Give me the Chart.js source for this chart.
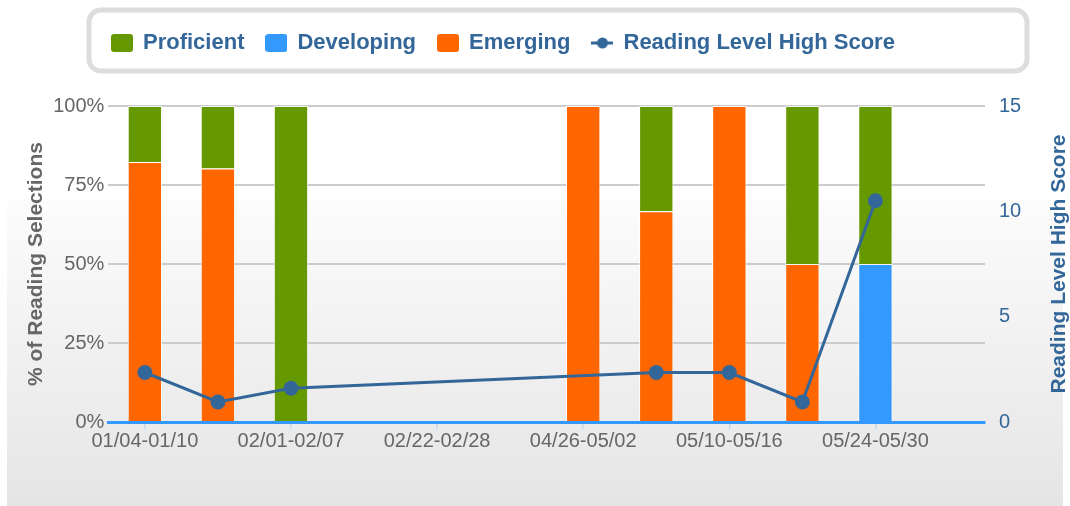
<!DOCTYPE html>
<html>
<head>
<meta charset="utf-8">
<script src="https://cdn.jsdelivr.net/npm/chart.js@4/dist/chart.umd.min.js"></script>
<style>
  html, body { margin: 0; padding: 0; background: #fff; }
  #wrap { width: 1070px; height: 506px; }
</style>
</head>
<body>
<div id="wrap"><canvas id="chart"></canvas></div>
<script>
const weeks = ['01/04-01/10', '01/18-01/24', '02/01-02/07', '02/08-02/14', '02/22-02/28', '03/01-03/07',
  '04/26-05/02', '05/03-05/09', '05/10-05/16', '05/17-05/23', '05/24-05/30', '05/31-06/06'];
const emerging = [82.3, 80.2, null, null, null, null, 100, 66.7, 100, 50, null, null];
const developing = [null, null, null, null, null, null, null, null, null, null, 50, null];
const proficient = [17.7, 19.8, 100, null, null, null, null, 33.3, null, 50, 50, null];
const highScore = [2.35, 0.95, 1.6, null, null, null, null, 2.35, 2.35, 0.95, 10.5, null];
const legendOrder = ['Proficient', 'Developing', 'Emerging', 'Reading Level High Score'];

const GREEN = '#669900', BLUE = '#3399ff', ORANGE = '#ff6600', NAVY = '#336699';
const FONT = '"Liberation Sans", Arial, sans-serif';

function boxIcon(color) {
  const c = document.createElement('canvas');
  c.width = 22; c.height = 18;
  const g = c.getContext('2d');
  g.fillStyle = color;
  g.beginPath();
  g.roundRect(0, 0, 22, 18, 3);
  g.fill();
  return c;
}
function lineIcon(color) {
  const c = document.createElement('canvas');
  c.width = 22; c.height = 14;
  const g = c.getContext('2d');
  g.strokeStyle = color;
  g.lineWidth = 3;
  g.beginPath();
  g.moveTo(0, 7); g.lineTo(22, 7);
  g.stroke();
  g.fillStyle = color;
  g.beginPath();
  g.arc(11, 7, 5.5, 0, Math.PI * 2);
  g.fill();
  return c;
}
const icons = {
  'Proficient': boxIcon(GREEN),
  'Developing': boxIcon(BLUE),
  'Emerging': boxIcon(ORANGE),
  'Reading Level High Score': lineIcon(NAVY)
};

// panel gradient + legend frame + right axis title
const backdrop = {
  id: 'backdrop',
  beforeInit(chart) {
    const fit = chart.legend.fit;
    chart.legend.fit = function () {
      fit.call(this);
      this.height += 42;
    };
  },
  afterLayout(chart) {
    chart.legend.left = 90;
  },
  beforeDraw(chart) {
    const ctx = chart.ctx;
    ctx.save();
    const grad = ctx.createLinearGradient(0, 200, 0, 506);
    grad.addColorStop(0, '#fcfcfc');
    grad.addColorStop(1, '#e5e5e5');
    ctx.fillStyle = grad;
    ctx.beginPath();
    ctx.roundRect(7, 200, 1056, 320, 8);
    ctx.fill();
    ctx.strokeStyle = '#dddddd';
    ctx.lineWidth = 5;
    ctx.beginPath();
    ctx.roundRect(89, 10, 938, 61, 12);
    ctx.stroke();
    ctx.restore();
  },
  afterDraw(chart) {
    const ctx = chart.ctx;
    const area = chart.chartArea;
    ctx.save();
    ctx.translate(1059, (area.top + area.bottom) / 2);
    ctx.rotate(-Math.PI / 2);
    ctx.fillStyle = NAVY;
    ctx.font = 'bold 21px ' + FONT;
    ctx.textAlign = 'center';
    ctx.textBaseline = 'middle';
    ctx.fillText('Reading Level High Score', 0, 0);
    ctx.restore();
  }
};

const ctx = document.getElementById('chart').getContext('2d');
new Chart(ctx, {
  type: 'bar',
  data: {
    labels: weeks,
    datasets: [
      { label: 'Emerging', data: emerging, backgroundColor: ORANGE, borderColor: 'rgba(255,255,255,0.8)', borderWidth: 1, yAxisID: 'y' },
      { label: 'Developing', data: developing, backgroundColor: BLUE, borderColor: 'rgba(255,255,255,0.8)', borderWidth: 1, yAxisID: 'y' },
      { label: 'Proficient', data: proficient, backgroundColor: GREEN, borderColor: 'rgba(255,255,255,0.8)', borderWidth: 1, yAxisID: 'y' },
      {
        type: 'line',
        label: 'Reading Level High Score',
        data: highScore,
        yAxisID: 'y1',
        borderColor: NAVY,
        backgroundColor: NAVY,
        borderWidth: 3,
        pointRadius: 6,
        pointHoverRadius: 6,
        spanGaps: true,
        order: -1
      }
    ]
  },
  options: {
    responsive: true,
    maintainAspectRatio: false,
    animation: false,
    datasets: { bar: { categoryPercentage: 1, barPercentage: 0.47 } },
    layout: { padding: { left: 16, right: 0, top: 10, bottom: 53 } },
    plugins: {
      tooltip: { enabled: false },
      legend: {
        position: 'top',
        align: 'start',
        labels: {
          usePointStyle: true,
          pointStyleWidth: 20,
          padding: 22,
          color: NAVY,
          font: { family: FONT, size: 22, weight: 'bold' },
          generateLabels(chart) {
            const items = Chart.defaults.plugins.legend.labels.generateLabels(chart);
            items.forEach(it => { it.pointStyle = icons[it.text]; });
            return items.sort((a, b) => legendOrder.indexOf(a.text) - legendOrder.indexOf(b.text));
          }
        }
      }
    },
    scales: {
      x: {
        stacked: true,
        border: { color: BLUE, width: 3 },
        grid: { offset: false, drawOnChartArea: false, color: '#c5d5e5', lineWidth: 1.5, tickLength: 7 },
        ticks: {
          maxRotation: 0,
          autoSkip: true,
          padding: 0,
          color: '#666666',
          font: { family: FONT, size: 20 }
        }
      },
      y: {
        stacked: true,
        position: 'left',
        min: 0,
        max: 100,
        border: { display: false },
        grid: { color: '#cccccc', lineWidth: 2, drawTicks: false },
        ticks: {
          stepSize: 25,
          padding: 4,
          color: '#666666',
          font: { family: FONT, size: 20 },
          callback: v => v + '%'
        },
        title: {
          display: true,
          text: '% of Reading Selections',
          color: '#666666',
          padding: { top: 8, bottom: 0 },
          font: { family: FONT, size: 21, weight: 'bold', lineHeight: 1.2 }
        }
      },
      y1: {
        position: 'right',
        min: 0,
        max: 15,
        border: { display: false },
        grid: { display: false },
        ticks: {
          stepSize: 5,
          padding: 6,
          color: NAVY,
          font: { family: FONT, size: 20 }
        },
        afterFit(scale) { scale.width = 85; }
      }
    }
  },
  plugins: [backdrop]
});
</script>
</body>
</html>
